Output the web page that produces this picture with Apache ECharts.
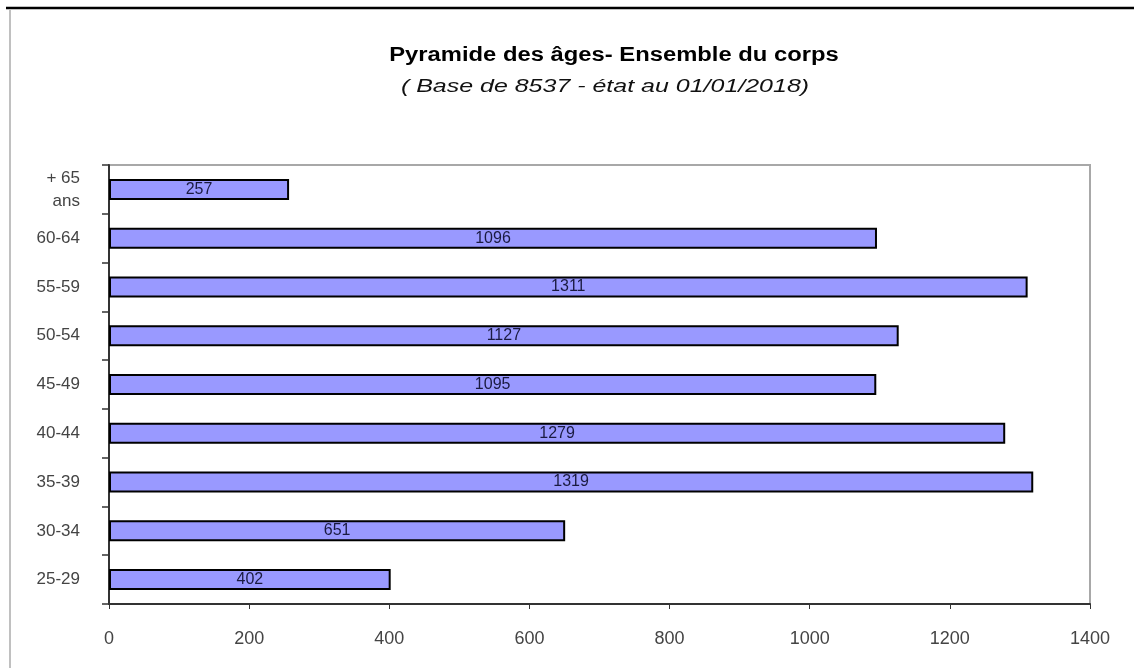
<!DOCTYPE html>
<html><head><meta charset="utf-8">
<script src="https://cdn.jsdelivr.net/npm/echarts@6/dist/echarts.min.js"></script>
<style>html,body{margin:0;padding:0;background:#fff}#c{width:1134px;height:668px}</style>
</head><body><div id="c"></div>
<script>
const categories = ['25-29','30-34','35-39','40-44','45-49','50-54','55-59','60-64','+ 65\nans'];
const values = [402, 651, 1319, 1279, 1095, 1127, 1311, 1096, 257];
const xTicks = [0, 200, 400, 600, 800, 1000, 1200, 1400];
const titleText = 'Pyramide des âges- Ensemble du corps';
const subtitleText = '( Base de 8537 - état au 01/01/2018)';

const chart = echarts.init(document.getElementById('c'), null, {renderer:'canvas'});
chart.setOption({
  backgroundColor:'#fff',
  animation:false,
  graphic:[
    {type:'line', shape:{x1:6,y1:8,x2:1134,y2:8}, style:{stroke:'#000', lineWidth:2.5}},
    {type:'line', shape:{x1:10,y1:9,x2:10,y2:668}, style:{stroke:'#c0c0c0', lineWidth:2}},
    {type:'text', x:614, y:56, scaleX:1.22, style:{text:titleText, font:'bold 19.5px "Liberation Sans"', fill:'#000', textAlign:'center', textVerticalAlign:'middle'}},
    {type:'text', x:605, y:87, scaleX:1.35, style:{text:subtitleText, font:'italic 18.5px "Liberation Sans"', fill:'#111', textAlign:'center', textVerticalAlign:'middle'}}
  ],
  grid:{left:109, right:44, top:165, bottom:64, show:true, borderColor:'#a8a8a8', borderWidth:2, containLabel:false},
  xAxis:{
    type:'value', min:0, max:1400, interval:200,
    axisLine:{show:true, lineStyle:{color:'#333', width:2}},
    axisTick:{show:true, length:5, lineStyle:{color:'#333'}},
    splitLine:{show:false},
    axisLabel:{margin:26, fontFamily:'Liberation Sans', fontSize:18, color:'#444',
      formatter:v => xTicks.includes(v) ? String(v) : ''}
  },
  yAxis:{
    type:'category', data:categories,
    axisLine:{show:true, lineStyle:{color:'#333', width:2}},
    axisTick:{show:true, length:7, lineStyle:{color:'#333', width:1.5}},
    axisLabel:{margin:29, fontFamily:'Liberation Sans', fontSize:17, color:'#444', align:'right', lineHeight:23}
  },
  series:[{
    type:'bar', data:values, barWidth:21,
    itemStyle:{color:'#9999ff', borderColor:'#000', borderWidth:2},
    label:{show:true, position:'inside', fontFamily:'Liberation Sans', fontSize:16, color:'#1a1a40'}
  }]
});
</script></body></html>
